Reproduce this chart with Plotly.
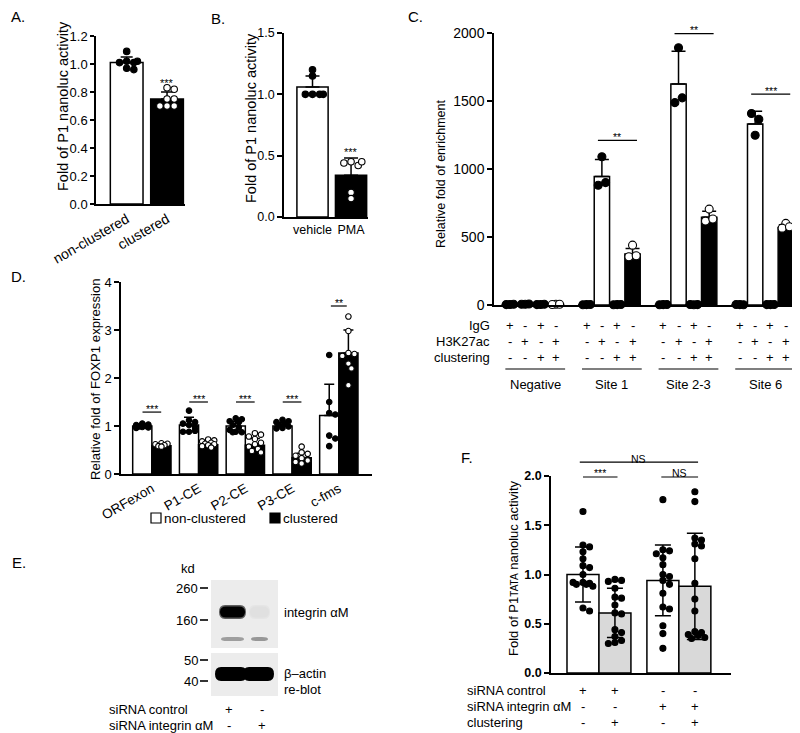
import plotly.graph_objects as go

# the page shows the figure 8px lower than the window top: compensate vertically
OFFX, OFFY = 0, 8
W, H = 800 - OFFX, 733 - OFFY
FONT = "Liberation Sans, Arial, Helvetica, sans-serif"

# ======================= DATA =======================
# Panel A
a_categories = ["non-clustered", "clustered"]
a_means = [1.01, 0.75]
a_sd = [0.04, 0.05]
a_nonclustered_pts = [1.09, 1.02, 1.01, 1.01, 1.02, 0.97, 0.96]
a_clustered_pts = [0.83, 0.82, 0.75, 0.75, 0.70, 0.70, 0.70]
a_sig = "***"

# Panel B
b_categories = ["vehicle", "PMA"]
b_means = [1.06, 0.34]
b_sd = [0.09, 0.14]
b_vehicle_pts = [1.20, 1.15, 1.00, 1.00, 1.00, 1.00]
b_pma_pts = [0.45, 0.42, 0.44, 0.45, 0.20, 0.15]
b_sig = "***"

# Panel C
c_groups = ["Negative", "Site 1", "Site 2-3", "Site 6"]
c_row_labels = ["IgG", "H3K27ac", "clustering"]
c_row_signs = [["+", "-", "+", "-"], ["-", "+", "-", "+"], ["-", "-", "+", "+"]]
c_igg_mean = [4, 3, 3, 3]
c_h3_mean = [6, 945, 1625, 1330]
c_h3_sd = [0, 125, 240, 95]
c_igg_cl_mean = [4, 3, 3, 3]
c_h3_cl_mean = [5, 375, 645, 570]
c_h3_cl_sd = [0, 40, 45, 20]
c_igg_pts = [[4, 3, 5], [3, 2, 4], [3, 2, 4], [3, 4, 2]]
c_h3_pts = [[6, 5, 7], [1090, 880, 900], [1892, 1488, 1523], [1248, 1408, 1366]]
c_igg_cl_pts = [[4, 3, 5], [3, 2, 4], [2, 4, 3], [3, 3, 4]]
c_h3_cl_pts = [[5, 4, 6], [440, 355, 362], [705, 617, 632], [600, 565, 575]]
c_sig_groups = [1, 2, 3]
c_sig_labels = ["**", "**", "***"]
c_sig_levels = [1210, 1995, 1550]

# Panel D
d_categories = ["ORFexon", "P1-CE", "P2-CE", "P3-CE", "c-fms"]
d_nc_mean = [1.00, 1.02, 1.00, 1.00, 1.22]
d_nc_sd = [0.03, 0.16, 0.10, 0.08, 0.65]
d_c_mean = [0.59, 0.61, 0.60, 0.34, 2.52]
d_c_sd = [0.03, 0.07, 0.14, 0.09, 0.48]
d_nc_pts = [
    [1.05, 1.03, 1.02, 1.00, 0.99, 0.98, 0.97, 0.96, 1.01, 1.00],
    [1.32, 1.12, 1.08, 1.05, 1.02, 0.97, 0.88, 0.88, 0.90],
    [1.16, 1.14, 1.10, 1.08, 1.02, 0.97, 0.92, 0.88, 0.87, 0.87],
    [1.13, 1.10, 1.08, 1.05, 1.02, 0.99, 0.96, 0.95],
    [2.48, 1.50, 1.27, 1.24, 0.80, 0.74, 0.58],
]
d_c_pts = [
    [0.64, 0.63, 0.62, 0.60, 0.58, 0.57],
    [0.72, 0.70, 0.68, 0.65, 0.63, 0.62, 0.60, 0.58, 0.55],
    [0.85, 0.82, 0.78, 0.73, 0.65, 0.62, 0.57, 0.52, 0.48, 0.45],
    [0.57, 0.45, 0.42, 0.38, 0.33, 0.28, 0.25, 0.22],
    [3.28, 2.98, 2.52, 2.50, 2.46, 2.30, 2.20, 1.85],
]
d_sig_labels = ["***", "***", "***", "***", "**"]
d_sig_levels = [1.29, 1.50, 1.50, 1.50, 3.50]
d_legend = ["non-clustered", "clustered"]

# Panel E (western blot)
e_markers_kd = ["260", "160", "50", "40"]
e_lane_labels = ["siRNA control", "siRNA integrin \u03b1M"]
e_lane_signs = [["+", "-"], ["-", "+"]]
e_integrin_intensity = [1.0, 0.05]
e_lower_band_intensity = [0.33, 0.36]
e_actin_intensity = [1.0, 1.0]
e_band_names = ["integrin \u03b1M", "\u03b2\u2013actin", "re-blot"]

# Panel F
f_means = [1.00, 0.61, 0.94, 0.88]
f_sd = [0.28, 0.25, 0.36, 0.54]
f_pts = [
    [1.64, 1.30, 1.28, 1.23, 1.16, 1.09, 1.07, 1.00, 0.92, 0.91, 0.90, 0.90, 0.88, 0.92, 0.66, 0.63],
    [0.95, 0.94, 0.93, 0.86, 0.77, 0.76, 0.69, 0.61, 0.60, 0.44, 0.41, 0.37, 0.33, 0.31, 0.30],
    [1.76, 1.25, 1.24, 1.21, 1.17, 1.10, 1.00, 0.98, 0.94, 0.90, 0.81, 0.67, 0.65, 0.48, 0.40, 0.25],
    [1.84, 1.74, 1.37, 1.35, 1.31, 1.29, 1.16, 0.91, 0.75, 0.63, 0.42, 0.41, 0.39, 0.38, 0.36, 0.35],
]
f_row_labels = ["siRNA control", "siRNA integrin \u03b1M", "clustering"]
f_row_signs = [["+", "+", "-", "-"], ["-", "-", "+", "+"], ["-", "+", "-", "+"]]
f_clustering = [False, True, False, True]

# ======================= GEOMETRY (window pixels) =======================
PA = dict(box=(88, 177, 36, 204), xr=(-0.76, 1.445), yr=(0, 1.2))
PB = dict(box=(276, 360, 33, 217), xr=(-0.74, 1.44), yr=(0, 1.5))
PC = dict(box=(486, 787, 33, 305), xr=(-1.04, 18.6), yr=(0, 2000))
PD = dict(box=(113, 364, 282, 474), xr=(-0.66, 4.71), yr=(0, 4))
PF = dict(box=(543, 723, 476, 673), xr=(-1.0, 4.63), yr=(0, 2))


def px(x):
    return (x - OFFX) / W


def py(y):
    return 1 - (y - OFFY) / H


def domains(p):
    x0, x1, yt, yb = p["box"]
    return [px(x0), px(x1)], [py(yb), py(yt)]


def ppx(p):
    x0, x1, _, _ = p["box"]
    return (x1 - x0) / (p["xr"][1] - p["xr"][0])


def ppy(p):
    _, _, yt, yb = p["box"]
    return (yb - yt) / (p["yr"][1] - p["yr"][0])


def to_paper(p, xv, yv):
    x0, x1, yt, yb = p["box"]
    xpx = x0 + (xv - p["xr"][0]) * ppx(p)
    ypx = yb - (yv - p["yr"][0]) * ppy(p)
    return px(xpx), py(ypx)


def swarm(vals, p, d_px, max_half_px):
    placed = []
    offs = []
    step = d_px * 0.55
    cands = [0.0]
    k = 1
    while k * step <= max_half_px:
        cands += [k * step, -k * step]
        k += 1
    for v in vals:
        yp = v * ppy(p)
        best = None
        for c in cands:
            if all((c - a) ** 2 + (yp - b) ** 2 >= (0.92 * d_px) ** 2 for a, b in placed):
                best = c
                break
        if best is None:
            best = max(cands, key=lambda c: min((c - a) ** 2 + (yp - b) ** 2 for a, b in placed))
        placed.append((best, yp))
        offs.append(best / ppx(p))
    return offs


fig = go.Figure()
shapes = []
annotations = []


def bar(xs, ys, sds, colors, width, capw, ax, minus=None, lw=1.5):
    fig.add_trace(go.Bar(
        x=xs, y=ys, width=width,
        marker=dict(color=colors, line=dict(color="black", width=lw)),
        error_y=dict(type="data", array=sds,
                     arrayminus=minus if minus is not None else [0] * len(sds),
                     symmetric=False, color="black", thickness=1.5, width=capw),
        xaxis="x" + ax, yaxis="y" + ax, showlegend=False, hoverinfo="skip"))


def pts(xs, ys, filled, size, ax):
    fig.add_trace(go.Scatter(
        x=xs, y=ys, mode="markers",
        marker=dict(size=size, color="black" if filled else "white",
                    line=dict(color="black", width=1.1)),
        xaxis="x" + ax, yaxis="y" + ax, showlegend=False, hoverinfo="skip",
        cliponaxis=False))


def text(x, y, s, size=13, xanchor="center", yanchor="middle", angle=0, weight="normal", pad=1):
    annotations.append(dict(x=x, y=y, xref="paper", yref="paper", text=s, showarrow=False,
                            xanchor=xanchor, yanchor=yanchor, textangle=angle,
                            borderpad=pad, borderwidth=0,
                            font=dict(family=FONT, size=size, color="black", weight=weight)))


def sig(p, x1, x2, level, label, size=10.5):
    (ax0, ay), (ax1, _) = to_paper(p, x1, level), to_paper(p, x2, level)
    shapes.append(dict(type="line", xref="paper", yref="paper", x0=ax0, x1=ax1, y0=ay, y1=ay,
                       line=dict(color="black", width=1.2)))
    text((ax0 + ax1) / 2, ay + 3.5 / H, label, size=size)


# ---------------- Panel A ----------------
bar([0, 1], a_means, a_sd, ["white", "black"], 0.81, 6, "")
for i, (arr, filled) in enumerate([(a_nonclustered_pts, True), (a_clustered_pts, False)]):
    offs = swarm(arr, PA, 6.5, 13)
    pts([i + o for o in offs], arr, filled, 6.5, "")
x_, y_ = to_paper(PA, 1, a_means[1] + a_sd[1])
text(x_, y_ + 9 / H, a_sig, size=11)

# ---------------- Panel B ----------------
bar([0, 1], b_means, b_sd, ["white", "black"], 0.81, 7, "2")
for i, (arr, filled) in enumerate([(b_vehicle_pts, True), (b_pma_pts, False)]):
    offs = swarm(arr, PB, 6.5, 12)
    pts([i + o for o in offs], arr, filled, 6.5, "2")
x_, y_ = to_paper(PB, 1, b_means[1] + b_sd[1])
text(x_, y_ + 6 / H, b_sig, size=11)

# ---------------- Panel C ----------------
c_cond_means = [c_igg_mean, c_h3_mean, c_igg_cl_mean, c_h3_cl_mean]
c_cond_sd = [[0] * 4, c_h3_sd, [0] * 4, c_h3_cl_sd]
c_cond_pts = [c_igg_pts, c_h3_pts, c_igg_cl_pts, c_h3_cl_pts]
c_cond_color = ["white", "white", "white", "black"]
c_offsets = [0.0, -0.24, 0.24]
for k in range(4):
    xs = [g * 5 + k for g in range(4)]
    bar(xs, c_cond_means[k], c_cond_sd[k], c_cond_color[k], 1.0, 7, "3")
for k in range(4):
    for g in range(4):
        arr = c_cond_pts[k][g]
        pts([g * 5 + k + c_offsets[j % 3] for j in range(len(arr))], arr, k != 3, 8, "3")
for g, lab, lev in zip(c_sig_groups, c_sig_labels, c_sig_levels):
    sig(PC, g * 5 + 0.74, g * 5 + 3.29, lev, lab)
row_y = [325, 341.5, 357.5]
for r, (lab, signs) in enumerate(zip(c_row_labels, c_row_signs)):
    text(px(483), py(row_y[r]), lab, xanchor="right")
    for g in range(4):
        for k in range(4):
            xp, _ = to_paper(PC, g * 5 + k, 0)
            text(xp, py(row_y[r]), signs[k])
for g, name in enumerate(c_groups):
    xa, _ = to_paper(PC, g * 5 - 0.3, 0)
    xb, _ = to_paper(PC, g * 5 + 3.6, 0)
    shapes.append(dict(type="line", xref="paper", yref="paper", x0=xa, x1=xb,
                       y0=py(369), y1=py(369), line=dict(color="black", width=1.2)))
    text((xa + xb) / 2, py(384), name)

# ---------------- Panel D ----------------
bw = 0.41
bar([i - bw / 2 for i in range(5)], d_nc_mean, d_nc_sd, "white", bw, 5, "4")
bar([i + bw / 2 for i in range(5)], d_c_mean, d_c_sd, "black", bw, 5, "4")
for i in range(5):
    offs = swarm(d_nc_pts[i], PD, 5.5, 7.5)
    pts([i - bw / 2 + o for o in offs], d_nc_pts[i], True, 5.5, "4")
    offs = swarm(d_c_pts[i], PD, 5.5, 7.5)
    pts([i + bw / 2 + o for o in offs], d_c_pts[i], False, 5.5, "4")
for i, (lab, lev) in enumerate(zip(d_sig_labels, d_sig_levels)):
    hw = 0.2 if i < 4 else 0.17
    sig(PD, i - hw, i + hw, lev, lab)
# legend
for (sx, col, lab) in [(143, "white", d_legend[0]), (262, "black", d_legend[1])]:
    shapes.append(dict(type="rect", xref="paper", yref="paper", x0=px(sx), x1=px(sx + 10),
                       y0=py(523), y1=py(513), fillcolor=col, line=dict(color="black", width=1.2)))
    text(px(sx + 12), py(518), lab, xanchor="left", size=13.5)

# ---------------- Panel E (blot) ----------------
def gray(t, base=236):
    v = int(round(base * (1 - t)))
    return f"rgb({v},{v},{v})"


def rounded(x0, y0, x1, y1, color):
    r = min((x1 - x0) / 2, 6)
    ym = (y0 + y1) / 2
    pth = (f"M {px(x0 + r)},{py(y0)} L {px(x1 - r)},{py(y0)} Q {px(x1)},{py(y0)} {px(x1)},{py(ym)} "
           f"Q {px(x1)},{py(y1)} {px(x1 - r)},{py(y1)} L {px(x0 + r)},{py(y1)} "
           f"Q {px(x0)},{py(y1)} {px(x0)},{py(ym)} Q {px(x0)},{py(y0)} {px(x0 + r)},{py(y0)} Z")
    shapes.append(dict(type="path", xref="paper", yref="paper", path=pth, fillcolor=color,
                       line=dict(width=0)))


shapes.append(dict(type="rect", xref="paper", yref="paper", x0=px(203), x1=px(270), y0=py(648),
                   y1=py(580), fillcolor="rgb(236,236,236)", line=dict(width=0), layer="below"))
shapes.append(dict(type="rect", xref="paper", yref="paper", x0=px(203), x1=px(270), y0=py(696),
                   y1=py(653), fillcolor="rgb(236,236,236)", line=dict(width=0), layer="below"))
lane_w = [[212, 237], [242, 261]]
for i in range(2):
    t = e_integrin_intensity[i]
    rounded(lane_w[i][0] - 1, 605, lane_w[i][1] + 1, 619, gray(t * 0.6))
    rounded(lane_w[i][0], 606.5, lane_w[i][1], 617.5, gray(t))
    tl = e_lower_band_intensity[i]
    rounded(lane_w[i][0] + 1, 637, lane_w[i][1] - 1, 641, gray(tl))
    ta = e_actin_intensity[i]
    ax0, ax1 = (207, 239) if i == 0 else (235, 266)
    rounded(ax0, 667, ax1, 681, gray(ta))
kd_y = [588, 620, 660, 681]
text(px(180), py(568), "kd")
for lab, yy in zip(e_markers_kd, kd_y):
    text(px(191), py(yy), lab, xanchor="right")
    shapes.append(dict(type="line", xref="paper", yref="paper", x0=px(192), x1=px(200),
                       y0=py(yy), y1=py(yy), line=dict(color="black", width=1.6)))
text(px(275), py(612), e_band_names[0], xanchor="left")
text(px(275), py(673), e_band_names[1], xanchor="left")
text(px(275), py(689), e_band_names[2], xanchor="left")
for r, (lab, signs) in enumerate(zip(e_lane_labels, e_lane_signs)):
    yy = 709 + 16 * r
    text(px(100), py(yy), lab, xanchor="left")
    for i in range(2):
        text(px([221, 254][i]), py(yy), signs[i])

# ---------------- Panel F ----------------
f_x = [0, 1, 2.5, 3.5]
bar(f_x, f_means, f_sd, ["#d9d9d9" if c else "white" for c in f_clustering], 1.0, 8, "5",
    minus=f_sd)
for i in range(4):
    offs = swarm(f_pts[i], PF, 6, 13)
    pts([f_x[i] + o for o in offs], f_pts[i], True, 6, "5")
sig(PF, 0, 1.08, 1.99, "***")
sig(PF, 2.45, 3.6, 1.99, "NS")
sig(PF, -0.1, 3.6, 2.14, "NS")
f_row_y = [690, 706.5, 722.5]
for r, (lab, signs) in enumerate(zip(f_row_labels, f_row_signs)):
    text(px(458), py(f_row_y[r]), lab, xanchor="left")
    for i in range(4):
        xp, _ = to_paper(PF, f_x[i], 0)
        text(xp, py(f_row_y[r]), signs[i])

# ---------------- Titles & letters ----------------
text(px(55), py(106), "Fold of P1 nanoluc activity", angle=-90, size=14.5)
text(px(243), py(118), "Fold of P1 nanoluc activity", angle=-90, size=14.5)
text(px(433), py(174), "Relative fold of enrichment", angle=-90, size=12.5)
text(px(88), py(379), "Relative fold of FOXP1 expression", angle=-90, size=13.2)
text(px(505), py(568), "Fold of P1<span style='font-size:10px'>TATA</span> nanoluc activity", angle=-90, size=13)
for lab, x, y in [("A.", 3, 17), ("B.", 203, 19), ("C.", 400, 17), ("D.", 3, 276), ("E.", 4, 562), ("F.", 453, 457)]:
    text(px(x), py(y), lab, xanchor="left", size=15, pad=0)

# ---------------- Axes ----------------
def yax(p, dtick, fmt, anchor, size=13, weight="normal", ticklen=5):
    _, yd = domains(p)
    return dict(domain=yd, range=list(p["yr"]), dtick=dtick, tick0=0, tickformat=fmt,
                showline=True, linecolor="black", linewidth=1.5, ticks="outside", ticklen=ticklen,
                tickwidth=1.5, tickcolor="black", showgrid=False, zeroline=False, anchor=anchor,
                automargin=False,
                tickfont=dict(family=FONT, size=size, color="black", weight=weight), fixedrange=True)


def xax(p, anchor, tickvals=None, ticktext=None, angle=0, size=13):
    xd, _ = domains(p)
    d = dict(domain=xd, range=list(p["xr"]), showline=True, linecolor="black", linewidth=1.5,
             ticks="", showgrid=False, zeroline=False, anchor=anchor, fixedrange=True,
             automargin=False, tickfont=dict(family=FONT, size=size, color="black"))
    if tickvals is None:
        d["showticklabels"] = False
    else:
        d.update(tickvals=tickvals, ticktext=ticktext, tickangle=angle)
    return d


fig.update_layout(
    template="none",
    width=W, height=H, margin=dict(l=0, r=0, t=0, b=0, pad=0), autosize=False,
    paper_bgcolor="white", plot_bgcolor="white", barmode="overlay", showlegend=False,
    xaxis=xax(PA, "y", [0, 1], a_categories, -30, size=14),
    yaxis=yax(PA, 0.2, ".1f", "x", size=13, ticklen=4),
    xaxis2=xax(PB, "y2", [0, 1], b_categories, 0, size=12.5),
    yaxis2=yax(PB, 0.5, ".1f", "x2", size=12.5),
    xaxis3=xax(PC, "y3"),
    yaxis3=yax(PC, 500, "d", "x3", size=14),
    xaxis4=xax(PD, "y4", list(range(5)), d_categories, -30, size=13.5),
    yaxis4=yax(PD, 1, "d", "x4", size=13),
    xaxis5=xax(PF, "y5"),
    yaxis5=yax(PF, 0.5, ".1f", "x5", size=12.5, weight="bold"),
    shapes=shapes, annotations=annotations,
    font=dict(family=FONT, color="black"),
)

fig.write_html("out.html")
